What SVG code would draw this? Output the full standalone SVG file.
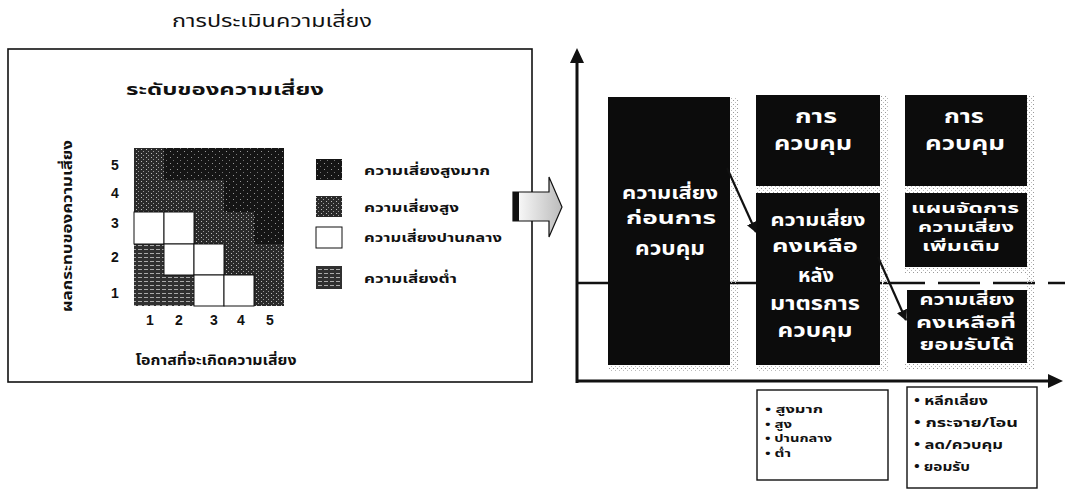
<svg xmlns="http://www.w3.org/2000/svg" width="1065" height="489" viewBox="0 0 1065 489">
<defs>
<style>
text{font-family:"Noto Sans Thai","Liberation Sans",sans-serif;font-weight:bold;fill:#111}
.w{fill:#fff;font-size:19px;text-anchor:middle}
.w1{fill:#fff;font-size:17px;text-anchor:middle}
.w2{fill:#fff;font-size:15.5px;text-anchor:middle}
.w3{fill:#fff;font-size:13.5px;text-anchor:middle}
.c{text-anchor:middle}
.blk{fill:#0c0c0c}
.frame{fill:none;stroke:#111;stroke-width:1.6}
.ax{stroke:#111;stroke-width:3;fill:none}
.cell{stroke:#111;stroke-width:1}
.lg{font-size:13px}
.sm{font-size:11.5px}
.xs{font-size:10px}
.num{font-family:"Liberation Sans",sans-serif;font-size:14px;text-anchor:middle}
</style>
<pattern id="vh" width="7" height="6" patternUnits="userSpaceOnUse"><rect width="7" height="6" fill="#151515"/><rect x="2" y="1" width="1" height="1" fill="#999"/><rect x="5" y="4" width="1" height="1" fill="#777"/></pattern>
<pattern id="hi" width="5" height="4" patternUnits="userSpaceOnUse"><rect width="5" height="4" fill="#2a2a2a"/><rect x="1" y="1" width="1" height="1" fill="#bbb"/><rect x="3" y="3" width="1" height="1" fill="#999"/></pattern>
<pattern id="lo" width="6" height="4" patternUnits="userSpaceOnUse"><rect width="6" height="4" fill="#303030"/><rect x="0" y="1" width="4" height="1" fill="#aaa"/></pattern>
<pattern id="st" width="4" height="4" patternUnits="userSpaceOnUse"><rect x="1" y="0" width="1" height="1" fill="#999"/><rect x="3" y="2" width="1" height="1" fill="#bbb"/></pattern>
<linearGradient id="ag" x1="0" x2="1" y1="0" y2="0"><stop offset="0" stop-color="#fff"/><stop offset="1" stop-color="#bbb"/></linearGradient>
<marker id="ah" viewBox="0 0 10 10" refX="9" refY="5" markerWidth="5" markerHeight="5" orient="auto"><path d="M0,0 L10,5 L0,10 z" fill="#111"/></marker>
</defs>

<text x="272" y="27" class="c" textLength="200" lengthAdjust="spacingAndGlyphs" style="font-size:18px;font-weight:normal">การประเมินความเสี่ยง</text>

<g id="risk-level-panel">
<rect x="8" y="49" width="524" height="333" class="frame"/>
<text x="225" y="95" class="c" textLength="198" lengthAdjust="spacingAndGlyphs" style="font-size:16px">ระดับของความเสี่ยง</text>
<text transform="translate(72,226) rotate(-90)" class="c" textLength="172" lengthAdjust="spacingAndGlyphs" style="font-size:14px">ผลกระทบของความเสี่ยง</text>
<text x="216" y="365" class="c" textLength="161" lengthAdjust="spacingAndGlyphs" style="font-size:13.5px">โอกาสที่จะเกิดความเสี่ยง</text>
</g>

<g id="matrix">
<rect x="134" y="148" width="150" height="158" fill="#151515"/>
<rect x="134" y="148" width="30" height="32" fill="url(#hi)"/>
<rect x="164" y="148" width="120" height="32" fill="url(#vh)"/>
<rect x="134" y="180" width="90" height="32" fill="url(#hi)"/>
<rect x="224" y="180" width="60" height="32" fill="url(#vh)"/>
<rect x="194" y="212" width="60" height="32" fill="url(#hi)"/>
<rect x="254" y="212" width="30" height="32" fill="url(#vh)"/>
<rect x="134" y="244" width="30" height="31" fill="url(#lo)"/>
<rect x="224" y="244" width="60" height="31" fill="url(#hi)"/>
<rect x="134" y="275" width="60" height="31" fill="url(#lo)"/>
<rect x="254" y="275" width="30" height="31" fill="url(#hi)"/>
<rect x="134" y="212" width="30" height="32" fill="#fff" class="cell"/>
<rect x="164" y="212" width="30" height="32" fill="#fff" class="cell"/>
<rect x="164" y="244" width="30" height="31" fill="#fff" class="cell"/>
<rect x="194" y="244" width="30" height="31" fill="#fff" class="cell"/>
<rect x="194" y="275" width="30" height="31" fill="#fff" class="cell"/>
<rect x="224" y="275" width="30" height="31" fill="#fff" class="cell"/>
<text x="115" y="170" class="num">5</text>
<text x="115" y="198" class="num">4</text>
<text x="115" y="228" class="num">3</text>
<text x="115" y="262" class="num">2</text>
<text x="115" y="298" class="num">1</text>
<text x="150" y="325" class="num">1</text>
<text x="179" y="325" class="num">2</text>
<text x="214" y="325" class="num">3</text>
<text x="241" y="325" class="num">4</text>
<text x="270" y="325" class="num">5</text>
</g>

<g id="legend">
<rect x="316" y="159" width="26" height="21" fill="url(#vh)"/>
<rect x="316" y="196" width="26" height="21" fill="url(#hi)"/>
<rect x="316" y="227" width="26" height="21" fill="#fff" class="cell"/>
<rect x="316" y="266" width="26" height="23" fill="url(#lo)"/>
<text x="364" y="175" class="lg" textLength="126" lengthAdjust="spacingAndGlyphs">ความเสี่ยงสูงมาก</text>
<text x="364" y="212" class="lg" textLength="95" lengthAdjust="spacingAndGlyphs">ความเสี่ยงสูง</text>
<text x="364" y="242" class="lg" textLength="138" lengthAdjust="spacingAndGlyphs">ความเสี่ยงปานกลาง</text>
<text x="364" y="283" class="lg" textLength="93" lengthAdjust="spacingAndGlyphs">ความเสี่ยงต่ำ</text>
</g>

<g id="transition-arrow">
<path d="M513,192 H549 V177 L562,207 L549,237 V221 H513 Z" fill="url(#ag)" stroke="#111" stroke-width="1.2"/>
<rect x="513" y="192" width="6" height="29" fill="#111"/>
</g>

<g id="axes">
<line x1="577" y1="383" x2="577" y2="60" class="ax"/>
<path d="M577,48 L570,63 L584,63 Z" fill="#111"/>
<line x1="577" y1="381" x2="1050" y2="381" class="ax"/>
<path d="M1063,381 L1048,374 L1048,388 Z" fill="#111"/>
<line x1="577" y1="283" x2="882" y2="283" stroke="#111" stroke-width="2.5"/>
<line x1="883" y1="283" x2="1065" y2="283" stroke="#111" stroke-width="2.5" stroke-dasharray="42 13"/>
</g>

<g id="shadows" fill="url(#st)">
<rect x="730" y="97" width="8" height="275"/>
<rect x="608" y="365" width="130" height="7"/>
<rect x="880" y="95" width="8" height="277"/>
<rect x="756" y="365" width="132" height="7"/>
<rect x="756" y="186" width="124" height="7"/>
<rect x="1027" y="95" width="8" height="275"/>
<rect x="905" y="186" width="122" height="7"/>
<rect x="905" y="267" width="122" height="7"/>
<rect x="905" y="363" width="130" height="7"/>
</g>

<g id="box-before">
<rect x="608" y="97" width="122" height="268" class="blk"/>
<text x="670" y="199" class="w1" textLength="96" lengthAdjust="spacingAndGlyphs">ความเสี่ยง</text>
<text x="671" y="224" class="w1" textLength="90" lengthAdjust="spacingAndGlyphs">ก่อนการ</text>
<text x="670" y="255" class="w" textLength="70" lengthAdjust="spacingAndGlyphs">ควบคุม</text>
</g>
<g id="box-control-1">
<rect x="756" y="95" width="124" height="91" class="blk"/>
<text x="816" y="123" class="w" textLength="42" lengthAdjust="spacingAndGlyphs">การ</text>
<text x="813" y="150" class="w" textLength="78" lengthAdjust="spacingAndGlyphs">ควบคุม</text>
</g>
<g id="box-residual">
<rect x="756" y="193" width="124" height="172" class="blk"/>
<text x="818" y="226" class="w1" textLength="95" lengthAdjust="spacingAndGlyphs">ความเสี่ยง</text>
<text x="815" y="252" class="w1" textLength="86" lengthAdjust="spacingAndGlyphs">คงเหลือ</text>
<text x="816" y="282" class="w" textLength="36" lengthAdjust="spacingAndGlyphs">หลัง</text>
<text x="815" y="310" class="w" textLength="90" lengthAdjust="spacingAndGlyphs">มาตรการ</text>
<text x="815" y="337" class="w" textLength="75" lengthAdjust="spacingAndGlyphs">ควบคุม</text>
</g>
<g id="box-control-2">
<rect x="905" y="95" width="122" height="91" class="blk"/>
<text x="964" y="123" class="w" textLength="40" lengthAdjust="spacingAndGlyphs">การ</text>
<text x="965" y="150" class="w" textLength="80" lengthAdjust="spacingAndGlyphs">ควบคุม</text>
</g>
<g id="box-plan">
<rect x="905" y="193" width="122" height="74" class="blk"/>
<text x="965" y="213" class="w3" textLength="108" lengthAdjust="spacingAndGlyphs">แผนจัดการ</text>
<text x="966" y="232" class="w3" textLength="96" lengthAdjust="spacingAndGlyphs">ความเสี่ยง</text>
<text x="961" y="251" class="w3" textLength="78" lengthAdjust="spacingAndGlyphs">เพิ่มเติม</text>
</g>
<g id="box-acceptable">
<rect x="907" y="290" width="120" height="73" class="blk"/>
<text x="967" y="305" class="w2" textLength="95" lengthAdjust="spacingAndGlyphs">ความเสี่ยง</text>
<text x="966" y="328" class="w2" textLength="100" lengthAdjust="spacingAndGlyphs">คงเหลือที่</text>
<text x="967" y="350" class="w2" textLength="95" lengthAdjust="spacingAndGlyphs">ยอมรับได้</text>
</g>

<g id="connectors" stroke="#111" stroke-width="2.2" fill="none">
<line x1="727" y1="168" x2="756" y2="232" marker-end="url(#ah)"/>
<line x1="878" y1="257" x2="906" y2="320" marker-end="url(#ah)"/>
</g>

<g id="list-levels">
<rect x="757" y="390" width="131" height="90" fill="#fff" stroke="#111" stroke-width="1.4"/>
<text x="765" y="413" class="xs" textLength="58" lengthAdjust="spacingAndGlyphs">• สูงมาก</text>
<text x="765" y="427.5" class="xs" textLength="27" lengthAdjust="spacingAndGlyphs">• สูง</text>
<text x="765" y="442" class="xs" textLength="67" lengthAdjust="spacingAndGlyphs">• ปานกลาง</text>
<text x="765" y="456.5" class="xs" textLength="26" lengthAdjust="spacingAndGlyphs">• ต่ำ</text>
</g>
<g id="list-responses">
<rect x="907" y="387" width="130" height="101" fill="#fff" stroke="#111" stroke-width="1.4"/>
<text x="914" y="405" class="sm" textLength="74" lengthAdjust="spacingAndGlyphs">• หลีกเลี่ยง</text>
<text x="914" y="427" class="sm" textLength="104" lengthAdjust="spacingAndGlyphs">• กระจาย/โอน</text>
<text x="914" y="449" class="sm" textLength="89" lengthAdjust="spacingAndGlyphs">• ลด/ควบคุม</text>
<text x="914" y="471" class="sm" textLength="56" lengthAdjust="spacingAndGlyphs">• ยอมรับ</text>
</g>
</svg>
